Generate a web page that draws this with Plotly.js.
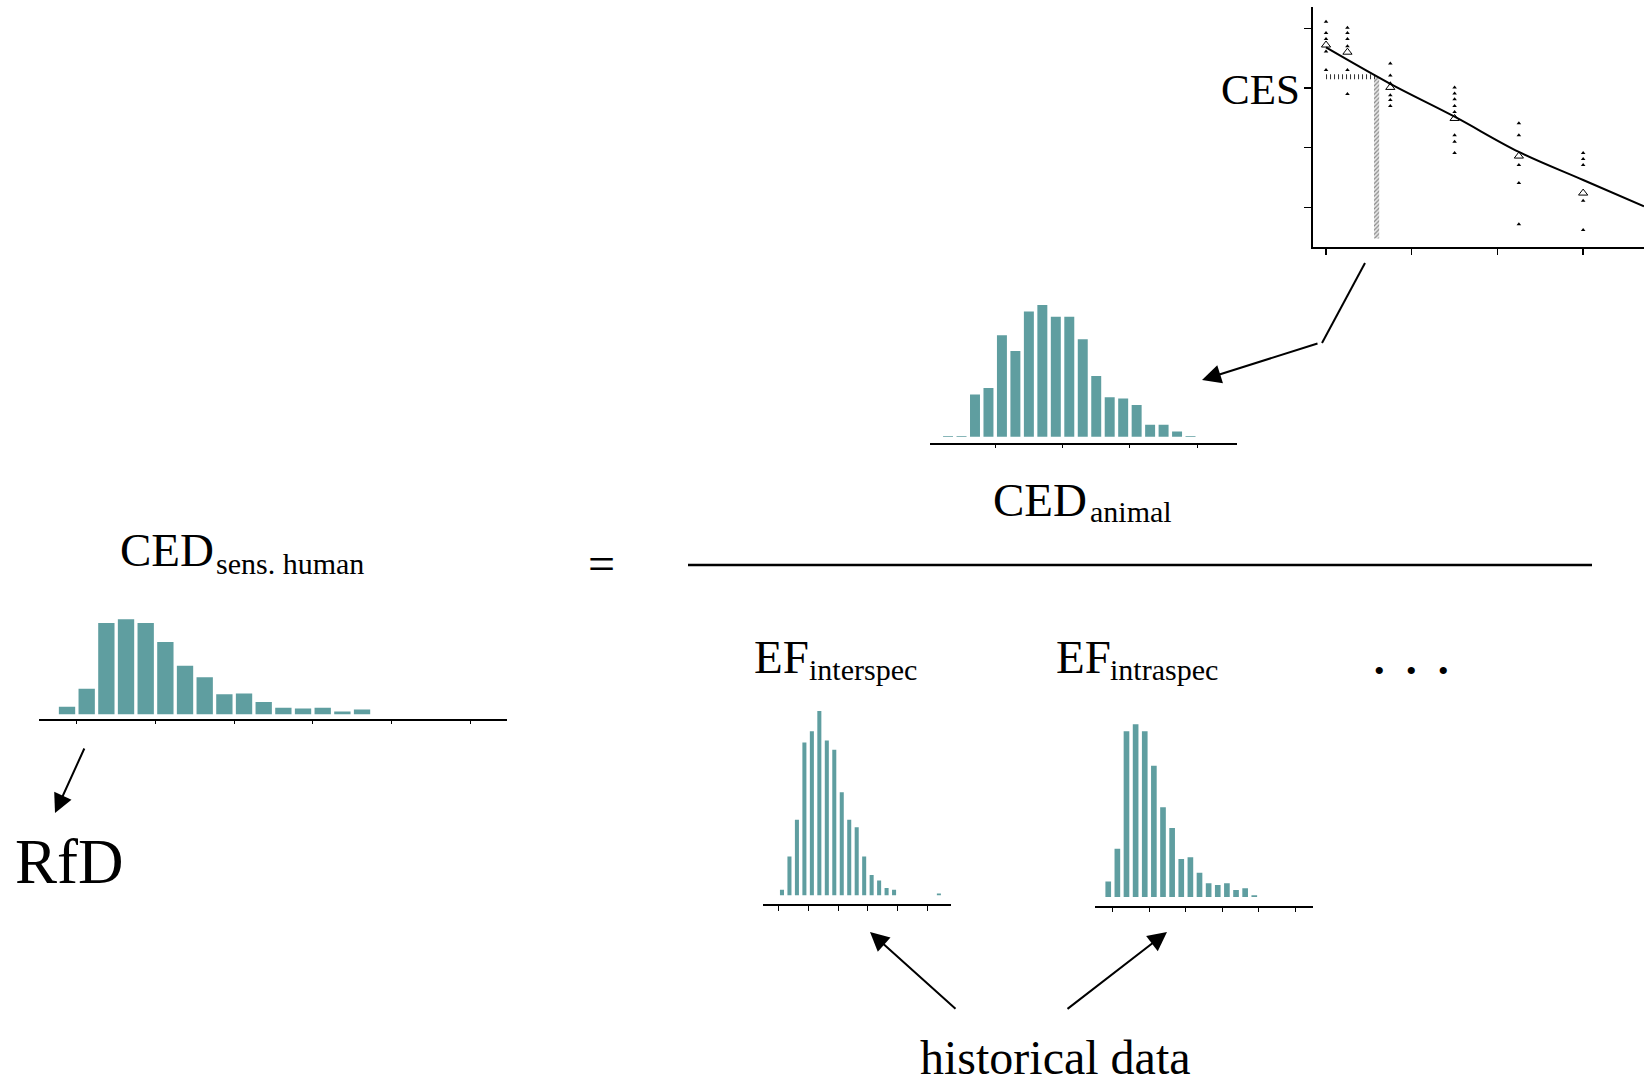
<!DOCTYPE html>
<html><head><meta charset="utf-8">
<script src="https://cdn.plot.ly/plotly-3.0.1.min.js"></script>
<style>html,body{margin:0;padding:0;background:#fff;} #chart{width:1644px;height:1085px;}</style>
</head><body><div id="chart"></div>
<script>
// ---------- data ----------
// CED sens. human histogram (relative counts per bin)
const humanCounts = [8, 27, 96, 100, 96, 76, 51, 39, 21, 22, 13, 7, 6, 7, 3, 5, 0, 0, 0, 0, 0, 0];
const humanTicks  = [1.5, 5.5, 9.5, 13.5, 17.5, 21.5];
// CED animal histogram
const animalCounts = [0.5, 0.5, 32, 37, 77, 65, 95, 100, 91, 91, 74, 46, 30, 29, 24, 9, 9, 4, 0.5, 0, 0, 0];
const animalTicks  = [4.5, 9.5, 14.5, 19.5];
// EF interspecies histogram
const interCounts = [3, 21, 41, 83, 89, 100, 84, 79, 56, 41, 37, 21, 11, 8, 4, 3, 0, 0, 0, 0, 0, 1];
const interTicks  = [0.5, 4.5, 8.5, 12.5, 16.5, 20.5];
// EF intraspecies histogram
const intraCounts = [9, 28, 96, 100, 96, 76, 52, 40, 22, 23, 14, 8, 7, 8, 4, 5, 1, 0, 0, 0, 0, 0];
const intraTicks  = [1.5, 5.5, 9.5, 13.5, 17.5, 21.5];
// dose-response panel
const doses = [0, 0.25, 0.75, 1.5, 2.25, 3];
const responses = [
  [4.11, 3.92, 3.82, 3.61, 3.30],
  [4.01, 3.92, 3.82, 3.70, 3.30, 2.90],
  [3.41, 3.21, 3.08, 2.88, 2.80, 2.70],
  [3.01, 2.91, 2.81, 2.70, 2.60, 2.21, 2.10, 1.91],
  [2.41, 2.21, 1.71, 1.41, 0.72],
  [1.91, 1.81, 1.71, 1.11, 0.62]
];
const groupMeans = [3.72, 3.60, 3.01, 2.49, 1.86, 1.24];
const curveDose = [0, 0.75, 1.5, 2.25, 3, 3.71];
const curveResp = [3.68, 3.07, 2.52, 1.93, 1.46, 1.02];
const cesLevel = 3.19;
const cedValue = 0.59;
const cedBandBottom = 0.48;
const doseTicks = [0, 1, 2, 3];
const respTicks = [1, 2, 3, 4];

// ---------- helpers ----------
const W = 1644, H = 1085;
const FONT = 'Liberation Serif, Times New Roman, serif';
const TEAL = '#5f9ea0';
const px = x => x / W;
const py = y => 1 - y / H;
const dX = (l, r) => [px(l), px(r)];
const dY = (top, bottom) => [py(bottom), py(top)];
const bins = arr => arr.map((_, i) => i + 1);

function histX(domain, range, ticks, ticklen, anchor) {
  return {domain, range, anchor, showline: true, linecolor: '#000', linewidth: 2,
    ticks: 'outside', tickvals: ticks, ticklen, tickwidth: 1, tickcolor: '#000',
    showticklabels: false, showgrid: false, zeroline: false, fixedrange: true};
}
function histY(domain, range, anchor) {
  return {domain, range, anchor, visible: false, showgrid: false, zeroline: false, fixedrange: true};
}
function histTrace(counts, xa, ya, width) {
  return {type: 'bar', x: bins(counts), y: counts, xaxis: xa, yaxis: ya, width,
    marker: {color: TEAL, line: {width: 0}}, hoverinfo: 'skip'};
}

// ---------- traces ----------
const traces = [
  histTrace(humanCounts, 'x', 'y', 0.83),
  histTrace(animalCounts, 'x2', 'y2', 0.74),
  histTrace(interCounts, 'x3', 'y3', 0.54),
  histTrace(intraCounts, 'x4', 'y4', 0.62)
];

// dose-response scatter
const obsX = [], obsY = [];
responses.forEach((g, i) => g.forEach(v => { obsX.push(doses[i]); obsY.push(v); }));
traces.push({type: 'bar', x: [cedValue], y: [cesLevel - cedBandBottom], base: [cedBandBottom],
  width: 0.06, xaxis: 'x5', yaxis: 'y5', hoverinfo: 'skip',
  marker: {color: '#e8e8e8', line: {width: 0},
    pattern: {shape: '/', fgcolor: '#888', bgcolor: '#e8e8e8', size: 3, solidity: 0.4}}});
traces.push({type: 'scatter', mode: 'lines', x: [0, cedValue], y: [cesLevel, cesLevel],
  xaxis: 'x5', yaxis: 'y5', line: {color: '#333', width: 5, dash: '1px,3px'}, hoverinfo: 'skip'});
traces.push({type: 'scatter', mode: 'markers', x: obsX, y: obsY, xaxis: 'x5', yaxis: 'y5',
  marker: {symbol: 'triangle-up', size: 4, color: '#000'}, hoverinfo: 'skip'});
traces.push({type: 'scatter', mode: 'lines', x: curveDose, y: curveResp, xaxis: 'x5', yaxis: 'y5',
  line: {color: '#000', width: 2, shape: 'spline'}, hoverinfo: 'skip'});
traces.push({type: 'scatter', mode: 'markers', x: doses, y: groupMeans, xaxis: 'x5', yaxis: 'y5',
  marker: {symbol: 'triangle-up-open', size: 8, color: '#000', line: {color: '#000', width: 1}}, hoverinfo: 'skip'});

// ---------- annotations ----------
function txt(text, x, y, size, xanchor) {
  return {text, x: px(x), y: py(y), xref: 'paper', yref: 'paper', xanchor: xanchor || 'left',
    yanchor: 'middle', showarrow: false, font: {family: FONT, size, color: '#000'}};
}
function arrow(tipX, tipY, tailX, tailY) {
  return {text: '', x: px(tipX), y: py(tipY), xref: 'paper', yref: 'paper',
    ax: tailX - tipX, ay: tailY - tipY, axref: 'pixel', ayref: 'pixel',
    showarrow: true, arrowhead: 2, arrowsize: 1.9, arrowwidth: 2, arrowcolor: '#000',
    standoff: 0, startstandoff: 0, font: {size: 1}};
}
const annotations = [
  txt('CED', 118, 550, 47), txt('sens. human', 214, 564, 30),
  txt('=', 601, 564, 48, 'center'),
  txt('CED', 991, 500, 47), txt('animal', 1088, 511, 30),
  txt('EF', 752, 657, 47), txt('interspec', 807, 669, 30),
  txt('EF', 1054, 657, 47), txt('intraspec', 1108, 669, 30),
  txt('•', 1379, 670, 30, 'center'), txt('•', 1411, 670, 30, 'center'), txt('•', 1443, 670, 30, 'center'),
  txt('RfD', 13, 862, 63),
  txt('historical data', 918, 1057, 48),
  txt('CES', 1219, 90, 43),
  arrow(1202, 380, 1319, 343),
  arrow(55, 813, 85, 747),
  arrow(870, 932, 957, 1010),
  arrow(1167, 932, 1066, 1010)
];

const shapes = [
  {type: 'line', xref: 'paper', yref: 'paper', x0: px(688), x1: px(1592), y0: py(565), y1: py(565),
   line: {color: '#000', width: 2.5}},
  {type: 'line', xref: 'paper', yref: 'paper', x0: px(1365), x1: px(1322), y0: py(263), y1: py(343),
   line: {color: '#000', width: 2}}
];

const layout = {
  width: W, height: H, autosize: false,
  margin: {l: 0, r: 0, t: 0, b: 0, pad: 0},
  paper_bgcolor: '#fff', plot_bgcolor: 'rgba(0,0,0,0)',
  showlegend: false, barmode: 'overlay',
  xaxis:  histX(dX(38.7, 507), [-0.44, 23.37], humanTicks, 3, 'y'),
  yaxis:  histY(dY(610, 719), [-4.95, 109.8], 'x'),
  xaxis2: histX(dX(930, 1237), [-0.34, 22.45], animalTicks, 3, 'y2'),
  yaxis2: histY(dY(298, 443.3), [-5.0, 105.3], 'x2'),
  xaxis3: histX(dX(763.3, 950.7), [-1.5, 23.58], interTicks, 5, 'y3'),
  yaxis3: histY(dY(705, 904), [-4.72, 103.3], 'x3'),
  xaxis4: histX(dX(1095, 1312.7), [-0.45, 23.4], intraTicks, 4, 'y4'),
  yaxis4: histY(dY(715, 905.7), [-5.04, 105.4], 'x4'),
  xaxis5: {domain: dX(1313, 1644), range: [-0.152, 3.71], anchor: 'y5', showline: true,
    linecolor: '#000', linewidth: 2, ticks: 'outside', tickvals: doseTicks, ticklen: 6, tickwidth: 1.5,
    tickcolor: '#000', showticklabels: false, showgrid: false, zeroline: false, fixedrange: true},
  yaxis5: {domain: dY(7, 247), range: [0.337, 4.357], anchor: 'x5', showline: true,
    linecolor: '#000', linewidth: 2, ticks: 'outside', tickvals: respTicks, ticklen: 7, tickwidth: 1.5,
    tickcolor: '#000', showticklabels: false, showgrid: false, zeroline: false, fixedrange: true},
  annotations, shapes
};

Plotly.newPlot('chart', traces, layout, {staticPlot: true, displayModeBar: false});
</script>
</body></html>
